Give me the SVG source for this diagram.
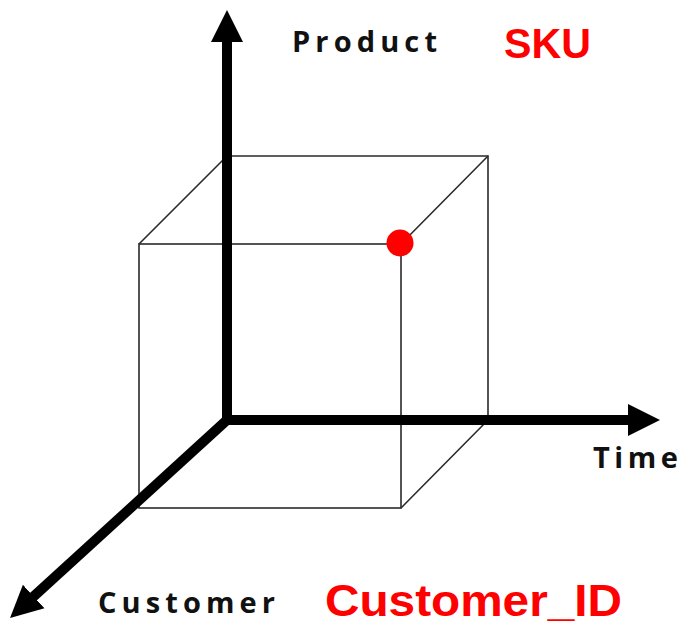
<svg xmlns="http://www.w3.org/2000/svg" width="681" height="626" viewBox="0 0 681 626">
  <style>
    .edge { stroke: #2a2a2a; stroke-width: 1.6; fill: none; }
    .axis { stroke: #000; stroke-width: 10; fill: none; stroke-linecap: butt; }
    .dim { font-family: "Open Sans", "DejaVu Sans", sans-serif; font-weight: bold; font-size: 29px; fill: #111; }
    .key { font-family: "Liberation Sans", Arial, sans-serif; font-weight: bold; fill: #ff0000; }
  </style>
  <defs>
    <marker id="head" markerUnits="userSpaceOnUse" markerWidth="34" markerHeight="34" viewBox="0 -17 34 34" refX="2" refY="0" orient="auto">
      <path d="M0,-16 L32,0 L0,16 Z" fill="#000"/>
    </marker>
  </defs>
  <rect width="681" height="626" fill="#fff"/>

  <!-- cube wireframe -->
  <g id="cube">
    <path class="edge" d="M227,156 H488 V420"/>
    <rect class="edge" x="139" y="244" width="262" height="264"/>
    <path class="edge" d="M139,244 L227,156 M401,244 L488,156 M401,508 L488,420"/>
  </g>

  <!-- the three axes -->
  <g id="connectors">
    <line id="axis-product" class="axis" x1="227" y1="425" x2="227" y2="40" marker-end="url(#head)"/>
    <line id="axis-time" class="axis" x1="222" y1="420" x2="630" y2="420" marker-end="url(#head)"/>
    <line id="axis-customer" class="axis" x1="227" y1="420" x2="32.2" y2="597.8" marker-end="url(#head)"/>
  </g>

  <!-- data point on the cube corner -->
  <g id="point">
    <circle cx="400" cy="243" r="13.5" fill="#ff0000"/>
  </g>

  <g id="label-product">
    <text class="dim" x="292" y="52" textLength="145" lengthAdjust="spacing">Product</text>
  </g>
  <g id="label-time">
    <text class="dim" x="593" y="468" textLength="85" lengthAdjust="spacing">Time</text>
  </g>
  <g id="label-customer">
    <text class="dim" x="98" y="613" textLength="177" lengthAdjust="spacing">Customer</text>
  </g>
  <g id="label-sku">
    <text class="key" x="504" y="58" font-size="43" textLength="87" lengthAdjust="spacingAndGlyphs">SKU</text>
  </g>
  <g id="label-customer-id">
    <text class="key" x="325" y="616" font-size="44" textLength="297" lengthAdjust="spacingAndGlyphs">Customer_ID</text>
  </g>
</svg>
